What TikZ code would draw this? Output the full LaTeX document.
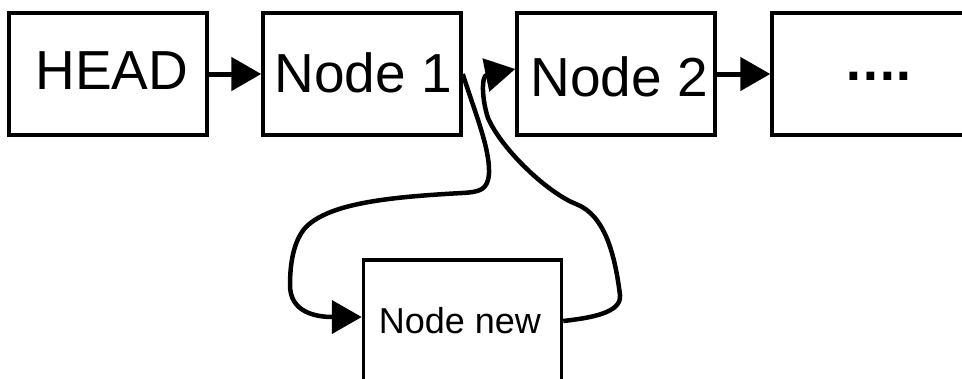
\documentclass[tikz,border=0pt]{standalone}
\usepackage{fontspec}
\setmainfont{Liberation Sans}
\newfontfamily\dotfont{DejaVu Sans}
\usetikzlibrary{arrows.meta}
\begin{document}
\begin{tikzpicture}[x=1pt,y=1pt,
  box/.style={draw=black, line width=3.5pt, minimum width=198pt, minimum height=122pt, inner sep=0pt},
  bigtxt/.style={anchor=base, inner sep=0pt, font=\fontsize{55}{60}\selectfont},
  smalltxt/.style={anchor=base, inner sep=0pt, font=\fontsize{36}{40}\selectfont},
  link/.style={line width=5pt, -{Triangle[length=30pt,width=33pt]}},
  curvelink/.style={line width=4.5pt, -{Triangle[length=30pt,width=33pt]}}]
\useasboundingbox (0,0) rectangle (962,-378);
\fill[white] (0,0) rectangle (962,-378);

% list cells
\node[box] (head) at (108,-74) {};
\node[box] (n1)   at (362,-74) {};
\node[box] (n2)   at (616,-74) {};
\node[box] (rest) at (871,-74) {};
\node[box] (nnew) at (462.5,-321) {};

% cell labels
\node[bigtxt] (thead) at (112,-89) {HEAD};
\node[bigtxt] (tn1)   at (363,-92) {Node 1};
\node[bigtxt] (tn2)   at (619,-96) {Node 2};
\node[anchor=base, inner sep=0pt, font=\dotfont\bfseries\fontsize{44}{50}\selectfont] (trest) at (879,-80) {....};
\node[smalltxt] (tnew) at (460,-333) {Node new};

% next pointers
\draw[link] (head.east) -- (n1.west);
\draw[link] (n2.east) -- (rest.west);

% Node 1 -> Node new
\draw[curvelink] (n1.east)
  .. controls (474,-110) and (490,-148) .. (489,-173)
  .. controls (488,-190) and (480,-192) .. (462,-193)
  .. controls (390,-197) and (330,-203) .. (306,-227)
  .. controls (293,-241) and (290,-265) .. (290,-285)
  .. controls (290,-312) and (315,-317) .. ([yshift=4pt]nnew.west);

% Node new -> Node 2
\draw[curvelink] (nnew.east)
  .. controls (590,-318) and (622,-313) .. (620,-295)
  .. controls (615,-255) and (605,-215) .. (576,-204)
  .. controls (548,-193) and (502,-150) .. (488,-118)
  .. controls (482,-100) and (481,-76) .. ([yshift=5pt]n2.west);
\end{tikzpicture}
\end{document}
